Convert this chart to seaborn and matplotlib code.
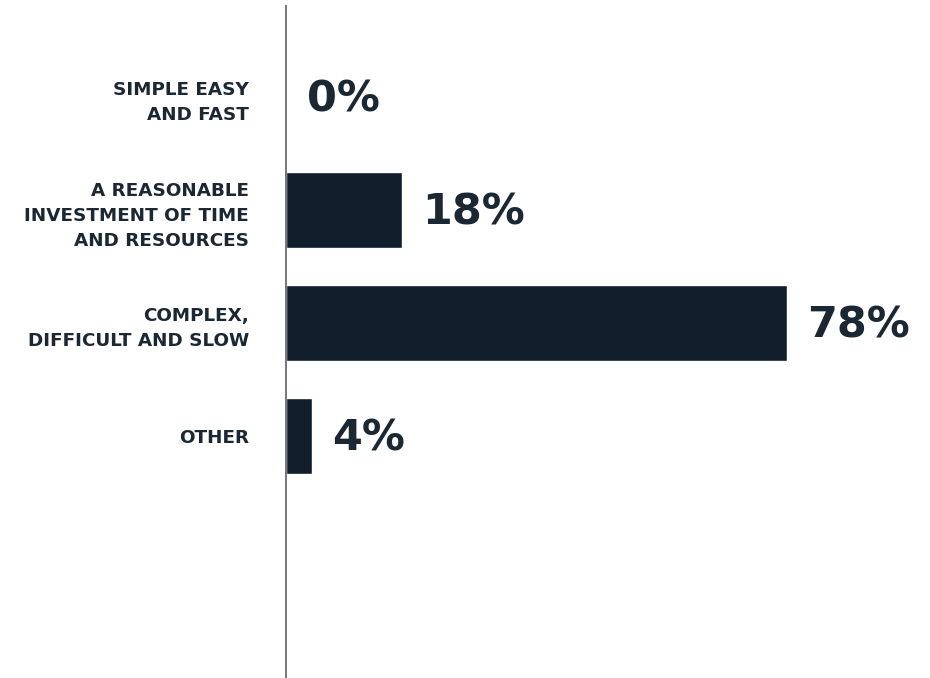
import matplotlib
matplotlib.use("Agg")
import matplotlib.pyplot as plt
import seaborn as sns
import pandas as pd

categories = [
    "SIMPLE EASY\nAND FAST",
    "A REASONABLE\nINVESTMENT OF TIME\nAND RESOURCES",
    "COMPLEX,\nDIFFICULT AND SLOW",
    "OTHER",
]
values = [0, 18, 78, 4]
value_labels = ["0%", "18%", "78%", "4%"]

df = pd.DataFrame({"category": categories, "value": values})

sns.set_theme(style="white")
plt.rcParams["font.family"] = ["DejaVu Sans"]

bar_color = "#111f2c"
text_color = "#1b2733"

fig = plt.figure(figsize=(9.3, 6.78), dpi=100)
ax = fig.add_axes([286 / 930, 0.0, 642 / 930, 672 / 678])

sns.barplot(data=df, x="value", y="category", orient="h", color=bar_color,
            width=0.673, saturation=1, ax=ax)

ax.set_xlim(0, 100)
ax.set_ylim(5.14, -0.805)

for spine in ["top", "right", "bottom"]:
    ax.spines[spine].set_visible(False)
ax.spines["left"].set_color("#6b6b6b")
ax.spines["left"].set_linewidth(1.3)

ax.set_xlabel("")
ax.set_ylabel("")
ax.set_xticks([])
ax.tick_params(axis="y", length=0, pad=26.5)
ax.set_yticks(range(len(categories)))
ax.set_yticklabels(categories, fontsize=13.2, fontweight="bold", color=text_color,
                   linespacing=1.5, ha="right")

for i, (v, lab) in enumerate(zip(values, value_labels)):
    ax.annotate(lab, xy=(v, i), xytext=(15, -2), textcoords="offset points",
                ha="left", va="center", fontsize=31, fontweight="bold",
                color=text_color)

fig.savefig("out.png", dpi=100, facecolor="white")
